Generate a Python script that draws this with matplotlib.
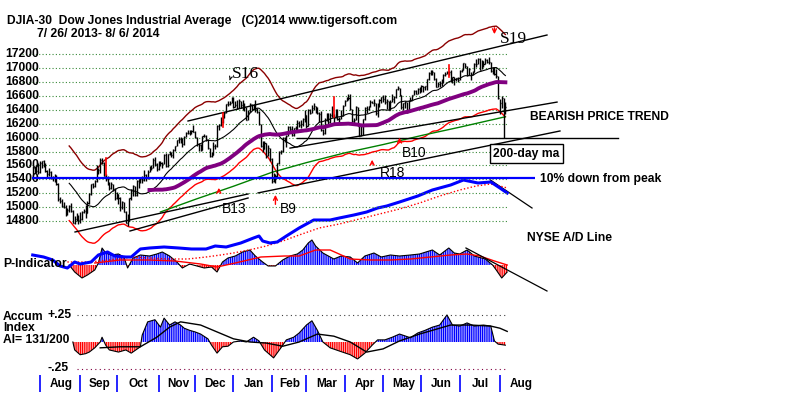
import numpy as np
import pandas as pd
import matplotlib
matplotlib.use("Agg")
import matplotlib.pyplot as plt
from matplotlib.transforms import blended_transform_factory

plt.rcParams['font.family'] = ['Liberation Sans', 'DejaVu Sans']
plt.rcParams['hatch.linewidth'] = 0.9

# DJIA daily bars 7/26/2013 - 8/6/2014, one entry per trading day
closes = [
    15558, 15521, 15521, 15500,
    15628, 15658, 15612, 15518, 15470, 15498, 15425, 15419, 15451, 15337, 15112, 15081,
    15010, 15002, 14897, 14963, 15010, 14946, 14776, 14825, 14841, 14810,
    14834, 14930, 14938, 14922, 15063, 15191, 15326, 15300, 15376, 15494, 15529, 15676,
    15636, 15451, 15401, 15334, 15273, 15328, 15258, 15129,
    15191, 15133, 14996, 15072, 14936, 14776, 14802, 15126, 15237, 15301, 15168, 15373,
    15371, 15399, 15392, 15467, 15413, 15509, 15570, 15568, 15680, 15618, 15545,
    15615, 15639, 15618, 15746, 15593, 15761, 15783, 15751, 15822, 15876, 15962, 15976,
    15967, 15901, 16010, 16065, 16073, 16072, 16097, 16086,
    16009, 15915, 15889, 15822, 16020, 16026, 15973, 15844, 15740, 15755, 15885, 15875,
    16168, 16179, 16221, 16294, 16358, 16479, 16478, 16505, 16577,
    16441, 16470, 16425, 16530, 16462, 16444, 16437, 16257, 16374, 16481, 16418, 16459,
    16414, 16373, 16198, 15879, 15838, 15929, 15739, 15849, 15699,
    15373, 15445, 15441, 15629, 15795, 15801, 15995, 15964, 16028, 16154, 16130, 16040,
    16134, 16104, 16208, 16180, 16198, 16273, 16322,
    16168, 16396, 16361, 16422, 16453, 16419, 16352, 16341, 16109, 16065, 16247, 16337,
    16223, 16331, 16303, 16277, 16368, 16268, 16264, 16323, 16458,
    16533, 16573, 16572, 16413, 16246, 16257, 16438, 16171, 16027, 16174, 16263, 16425,
    16409, 16449, 16514, 16502, 16501, 16361, 16449, 16535, 16581,
    16559, 16513, 16531, 16402, 16518, 16551, 16583, 16696, 16716, 16614, 16447, 16492,
    16512, 16375, 16533, 16543, 16607, 16676, 16634, 16699, 16717,
    16743, 16722, 16738, 16837, 16924, 16943, 16946, 16844, 16734, 16776, 16782, 16808,
    16907, 16921, 16947, 16938, 16819, 16868, 16846, 16852, 16827,
    16957, 16977, 17068, 17025, 16906, 16985, 16915, 16944, 17055, 17061, 17138, 16977,
    17100, 17052, 17114, 17087, 17083, 16961, 16983, 16913, 16881, 16563,
    16493, 16570, 16430, 16443,
]
# distance of each day's high / low from its close
hi_off = [
    30, 60, 80, 130,
    30, 10, 60, 110, 60, 60, 100, 30, 30, 130, 230, 70, 110, 70, 130, 20, 20, 110, 180, 40, 80, 80,
    100, 20, 40, 110, 20, 10, 10, 40, 10, 110, 30, 30, 70, 200, 70, 110, 90, 40, 80, 140,
    20, 60, 150, 10, 140, 170, 100, 10, 20, 20, 140, 20, 30, 20, 50, 60, 60, 20, 20, 40, 20, 110, 90,
    50, 20, 30, 20, 180, 10, 20, 40, 10, 10, 10, 30, 40, 100, 10, 10, 30, 40, 10, 90,
    90, 100, 40, 80, 10, 30, 60, 130, 110, 40, 50, 40, 10, 20, 70, 30, 10, 10, 50, 20, 10,
    140, 50, 110, 20, 70, 90, 60, 190, 20, 20, 70, 30, 120, 60, 180, 320, 110, 20, 190, 40, 150,
    330, 40, 30, 10, 10, 20, 20, 50, 10, 20, 40, 130, 10, 70, 50, 60, 50, 10, 80,
    160, 20, 50, 40, 50, 40, 90, 30, 270, 60, 30, 10, 130, 30, 150, 60, 50, 140, 30, 80, 10,
    10, 10, 60, 220, 170, 30, 10, 270, 150, 20, 10, 10, 50, 10, 30, 30, 60, 140, 50, 20, 10,
    50, 100, 20, 130, 30, 80, 10, 10, 20, 100, 170, 10, 20, 140, 10, 40, 10, 10, 50, 10, 10,
    10, 20, 10, 10, 20, 30, 20, 100, 120, 20, 30, 40, 10, 30, 10, 20, 160, 10, 30, 10, 40,
    20, 10, 10, 50, 120, 10, 30, 20, 20, 70, 10, 170, 10, 50, 30, 40, 70, 120, 30, 100, 110, 320,
    60, 30, 140, 70,
]
lo_off = [
    100, 30, 30, 20,
    140, 100, 30, 20, 40, 50, 20, 40, 90, 20, 20, 20, 10, 20, 20, 80, 80, 10, 10, 70, 40, 50,
    60, 110, 30, 80, 150, 140, 150, 20, 90, 130, 50, 180, 20, 10, 20, 20, 20, 70, 30, 20,
    80, 90, 50, 100, 10, 10, 80, 330, 130, 140, 10, 210, 100, 50, 50, 90, 40, 110, 70, 30, 120, 30, 20,
    80, 50, 50, 130, 10, 190, 40, 30, 120, 70, 90, 60, 40, 30, 110, 60, 20, 40, 40, 10,
    10, 30, 80, 20, 200, 20, 20, 10, 20, 30, 130, 40, 300, 70, 50, 80, 70, 130, 20, 40, 80,
    20, 30, 20, 110, 30, 40, 50, 10, 120, 110, 20, 60, 50, 20, 20, 10, 40, 100, 30, 110, 40,
    30, 90, 100, 190, 170, 40, 200, 30, 170, 130, 40, 20, 110, 10, 110, 30, 60, 110, 100,
    30, 230, 20, 70, 50, 60, 10, 110, 20, 30, 190, 100, 30, 120, 10, 70, 90, 10, 70, 60, 140,
    80, 50, 30, 10, 40, 60, 190, 10, 10, 150, 230, 170, 50, 50, 70, 10, 40, 30, 150, 90, 80,
    40, 30, 120, 10, 120, 40, 80, 120, 30, 10, 40, 90, 80, 20, 160, 20, 70, 70, 10, 70, 70,
    80, 60, 60, 150, 90, 40, 50, 10, 10, 50, 60, 60, 120, 40, 30, 40, 20, 80, 90, 40, 20,
    130, 40, 90, 20, 20, 80, 90, 50, 110, 40, 80, 10, 120, 40, 60, 20, 30, 20, 70, 10, 20, 10,
    160, 150, 30, 110,
]

months = ['Aug', 'Sep', 'Oct', 'Nov', 'Dec', 'Jan', 'Feb', 'Mar', 'Apr', 'May', 'Jun', 'Jul', 'Aug']
month_start = [4, 26, 46, 69, 89, 110, 131, 150, 171, 192, 213, 234, 256]
price_levels = [17200, 17000, 16800, 16600, 16400, 16200, 16000, 15800, 15600, 15400, 15200, 15000, 14800]

# 200-day moving average
ma200_day = [70, 90, 110, 131, 150, 171, 192, 213, 234, 259]
ma200_val = [14930, 15120, 15300, 15500, 15640, 15780, 15900, 16030, 16150, 16300]

# NYSE A/D line and its moving average (relative units)
ad_day = [0, 6, 11, 15, 19, 23, 26, 32, 36, 41, 45, 51, 54, 59, 64, 72, 80, 87, 95, 100, 106,
          114, 121, 124, 126, 130, 134, 139, 146, 154, 163, 168, 176, 183, 189, 194, 201, 211,
          219, 229, 236, 244, 251, 256, 260]
ad_val = [450, 430, 400, 340, 320, 380, 360, 380, 450, 480, 440, 430, 430, 510, 520, 530, 520,
          510, 510, 540, 530, 570, 620, 640, 590, 570, 580, 640, 720, 800, 800, 820, 850, 880,
          920, 940, 980, 1040, 1100, 1150, 1200, 1170, 1180, 1120, 1070]
ad_ma_day = [19, 31, 42, 55, 64, 74, 85, 95, 103, 110, 121, 128, 137, 146, 157, 168, 179, 190,
             201, 212, 223, 234, 243, 251, 256, 260]
ad_ma_val = [380, 380, 400, 430, 420, 410, 410, 430, 450, 470, 510, 540, 590, 650, 720, 760, 810,
             860, 910, 970, 1040, 1100, 1140, 1160, 1140, 1120]

# P-Indicator and its moving average
p_day = [20, 23, 27, 30, 34, 36, 38, 40, 43, 47, 50, 52, 55, 59, 64, 68, 71, 75, 79, 82, 86, 90,
         94, 98, 101, 104, 107, 111, 115, 119, 122, 126, 129, 133, 137, 141, 145, 148, 151, 153,
         155, 159, 165, 169, 174, 178, 182, 187, 191, 196, 201, 207, 212, 219, 223, 228, 231,
         234, 238, 242, 248, 252, 254, 257, 260]
p_val = [0, -70, -130, -100, -50, 20, 170, 120, 100, 110, 80, -30, 70, 100, 90, 110, 130, 90, 30,
         -30, 10, -10, -30, -20, -70, 30, 70, 90, 130, 150, 90, 30, -10, -10, 50, 90, 110, 150,
         220, 250, 190, 120, 60, 90, 80, 20, 90, 120, 80, 100, 90, 100, 110, 150, 100, 170, 120,
         110, 150, 90, 60, 0, -50, -130, -70]
pma_day = [34, 48, 64, 78, 92, 101, 111, 125, 138, 146, 155, 163, 174, 185, 196, 207, 218, 229,
           238, 245, 253, 260]
pma_val = [20, 50, 50, 40, 10, -20, 20, 80, 90, 90, 150, 150, 60, 50, 50, 60, 80, 100, 110, 90,
           40, 0]

# Accumulation Index and its moving average
ai_day = [22, 23, 26, 29, 31, 34, 37, 38, 40, 42, 47, 51, 54, 59, 60, 63, 67, 70, 72, 75, 78, 81,
          83, 86, 89, 92, 96, 98, 101, 104, 107, 110, 114, 117, 121, 124, 127, 132, 136, 139, 143,
          146, 150, 153, 156, 159, 163, 168, 174, 178, 182, 186, 189, 193, 197, 201, 207, 211,
          215, 219, 223, 227, 230, 234, 238, 242, 247, 251, 253, 255, 259]
ai_val = [0.0, -0.075, -0.12, -0.11, -0.095, -0.055, 0.0, 0.045, -0.03, -0.075, -0.095, -0.075,
          -0.105, -0.045, 0.065, 0.19, 0.21, 0.14, 0.225, 0.16, 0.19, 0.16, 0.13, 0.11, 0.095,
          0.075, 0.03, -0.03, -0.105, -0.045, -0.04, 0.0, 0.01, 0.0, 0.045, 0.01, -0.075, -0.15,
          -0.055, 0.02, 0.045, 0.085, 0.16, 0.2, 0.11, 0.0, -0.055, -0.085, -0.12, -0.16, -0.105,
          -0.03, 0.02, 0.02, 0.045, 0.075, 0.04, 0.085, 0.11, 0.14, 0.16, 0.255, 0.16, 0.15, 0.18,
          0.15, 0.16, 0.15, 0.01, -0.02, -0.03]
aima_day = [37, 48, 59, 68, 75, 81, 92, 101, 110, 119, 128, 137, 146, 156, 165, 174, 183, 192,
            201, 212, 219, 229, 240, 251, 256, 260]
aima_val = [-0.055, -0.045, -0.045, 0.045, 0.14, 0.19, 0.16, 0.095, 0.03, 0.0, -0.01, -0.04, 0.0,
            0.075, 0.055, 0.0, -0.095, -0.065, 0.01, 0.075, 0.11, 0.16, 0.16, 0.15, 0.13, 0.10]

# trend lines drawn on the chart: (day, price) end points
trend_lines = [
    ((85.1, 16239), (281.8, 17476)),
    ((141.0, 15849), (287.3, 16511)),
    ((123.5, 15204), (288.9, 16095)),
    ((23.2, 14642), (118.0, 15189)),
    ((53.3, 14656), (118.0, 15131)),
    ((144.8, 16000), (320.7, 16000)),
    ((258.2, 16397), (258.2, 16010)),
]
ad_trend = ((250.8, 1200), (273.6, 920))
p_trend = ((237.4, 170), (281.8, -260))

# signals
buy_arrows = [(102, 15318, 15175), (133, 15216, 15000), (186, 15722, 15578), (201, 16040, 15894)]
buy_labels = [('B13', 103.7, 14972), ('B9', 135.5, 14972), ('R18', 190, 15490), ('B10', 202.5, 15778)]
sell_labels = [('S16', 109, 16915), ('S19', 256, 17418)]
red_marks = [(40, 15705, 15460), (104, 16354, 16153), (165, 16584, 16296), (228, 17045, 16872)]

W, H = 800, 395
XLIM = (-17.92, 420.44)
fig = plt.figure(figsize=(8, 3.95), dpi=100)


def layer(ylim):
    a = fig.add_axes([0, 0, 1, 1])
    a.set_axis_off()
    a.set_xlim(*XLIM)
    a.set_ylim(*ylim)
    a.patch.set_alpha(0)
    return a


def fx(x):
    return x / W


def fy(y):
    return 1 - y / H


ai = layer((-0.4998, 3.225))
pi = layer((-1300, 2650))
ad = layer((-950, 3000))
ax = layer((12296.4, 17979.9))

days = np.arange(len(closes))
c = np.array(closes, float)
hi = c + np.array(hi_off)
lo = c - np.array(lo_off)
s = pd.Series(c)
ma21 = s.rolling(21).mean()
ma65 = s.rolling(65).mean()

# grid and price labels
ax.hlines(price_levels, -6, 260, colors='#3a8a3a', linestyles=(0, (1, 2)), lw=0.8, zorder=1)
tl = blended_transform_factory(fig.transFigure, ax.transData)
for lv in price_levels:
    ax.text(fx(5), lv, str(lv), transform=tl, ha='left', va='center', fontsize=8.7, fontweight='bold')

peak = max(closes)
ax.hlines(peak * 0.9, -0.4, 275.2, colors='#0000ff', lw=1.6, zorder=5)

# bands and averages
ax.plot(days, ma21 * 1.035, color='#8b0000', lw=1, zorder=2)
ax.plot(days, ma21 * 0.965, color='#ff0000', lw=1, zorder=2)
ax.plot(ma200_day, ma200_val, color='#008000', lw=1, zorder=2)
ax.plot(days, ma21, color='black', lw=0.8, zorder=2)
for (d0, p0), (d1, p1) in trend_lines:
    ax.plot([d0, d1], [p0, p1], color='black', lw=1, zorder=2)

ax.vlines(days, lo, hi, colors='black', lw=1, zorder=3)
ax.hlines(c, days, days + 0.6, colors='black', lw=1, zorder=3)
ax.plot(days, ma65, color='#800080', lw=2.8, zorder=4)

for d, top, bot in red_marks:
    ax.plot([d, d], [bot, top], color='red', lw=1.2, zorder=5)
for d, tip, tail in buy_arrows:
    ax.annotate('', xy=(d, tip), xytext=(d, tail),
                arrowprops=dict(arrowstyle='->', color='red', lw=1, mutation_scale=7), zorder=6)
ax.annotate('', xy=(253, 17448), xytext=(253, 17620),
            arrowprops=dict(arrowstyle='->', color='red', lw=1, mutation_scale=7), zorder=6)
ax.annotate('', xy=(107.5, 16786), xytext=(108.5, 16870),
            arrowprops=dict(arrowstyle='->', color='black', lw=0.8, mutation_scale=5), zorder=6)
for t, d, p in buy_labels:
    ax.text(d, p, t, fontsize=10, ha='left', va='center', zorder=7)
for t, d, p in sell_labels:
    ax.text(d, p, t, fontsize=12.5, ha='left', va='center', family='Liberation Serif', zorder=7)

# A/D line
ad.plot(ad_ma_day, ad_ma_val, color='red', lw=1, ls=(0, (1, 1.5)), zorder=3)
ad.plot(ad_day, ad_val, color='#0000ff', lw=2.2, zorder=4)
ad.plot([ad_trend[0][0], ad_trend[1][0]], [ad_trend[0][1], ad_trend[1][1]], color='black', lw=0.9)

# P-Indicator
pv = np.array(p_val, float)
pi.fill_between(p_day, pv, 0, where=pv >= 0, interpolate=True, facecolor='none',
                edgecolor='#0000ff', hatch='|' * 9, lw=0)
pi.fill_between(p_day, pv, 0, where=pv <= 0, interpolate=True, facecolor='none',
                edgecolor='#ff0000', hatch='|' * 9, lw=0)
pi.plot(p_day, pv, color='black', lw=0.8)
pi.plot(pma_day, pma_val, color='red', lw=1)
pi.plot([p_trend[0][0], p_trend[1][0]], [p_trend[0][1], p_trend[1][1]], color='black', lw=0.9)

# Accumulation Index
av = np.array(ai_val, float)
ai.hlines(0.25, 24, 260, colors='#404040', linestyles=(0, (1, 3)), lw=0.8)
ai.hlines(-0.25, 24, 260, colors='#800040', linestyles=(0, (1, 3)), lw=0.8)
ai.fill_between(ai_day, av, 0, where=av >= 0, interpolate=True, facecolor='none',
                edgecolor='#0000ff', hatch='|' * 9, lw=0)
ai.fill_between(ai_day, av, 0, where=av <= 0, interpolate=True, facecolor='none',
                edgecolor='#ff0000', hatch='|' * 9, lw=0)
ai.plot(ai_day, av, color='black', lw=0.8)
ai.plot(aima_day, aima_val, color='black', lw=1)

# month axis
tm = blended_transform_factory(ax.transData, fig.transFigure)
ax.vlines(month_start, fy(392), fy(375), transform=tm, colors='#0000ff', lw=1.2)
for i, m in enumerate(months):
    nxt = month_start[i + 1] if i + 1 < len(month_start) else month_start[i] + 22
    ax.text((month_start[i] + nxt) / 2 + 0.6, fy(384), m, transform=tm, ha='center', va='center',
            fontsize=8.5, fontweight='bold')

# texts
bold = dict(fontsize=8.7, fontweight='bold', va='center', ha='left')
fig.text(fx(7), fy(21), 'DJIA-30  Dow Jones Industrial Average   (C)2014 www.tigersoft.com', **bold)
fig.text(fx(37), fy(34), '7/ 26/ 2013- 8/ 6/ 2014', **bold)
fig.text(fx(530), fy(117), 'BEARISH PRICE TREND', **bold)
fig.text(fx(526.5), fy(153.5), '200-day ma', fontsize=8.7, fontweight='bold', ha='center', va='center',
         bbox=dict(boxstyle='square,pad=0.25', fc='white', ec='black', lw=1))
fig.text(fx(540), fy(179), '10% down from peak', **bold)
fig.text(fx(527), fy(238), 'NYSE A/D Line', **bold)
fig.text(fx(3), fy(264), 'P-Indicator', **bold)
fig.text(fx(3), fy(317), 'Accum', **bold)
fig.text(fx(3), fy(328), 'Index', **bold)
fig.text(fx(3), fy(340), 'AI= 131/200', **bold)
fig.text(fx(47), fy(315), '+.25', **bold)
fig.text(fx(47), fy(368), '-.25', **bold)

fig.savefig('out.png', dpi=100)
